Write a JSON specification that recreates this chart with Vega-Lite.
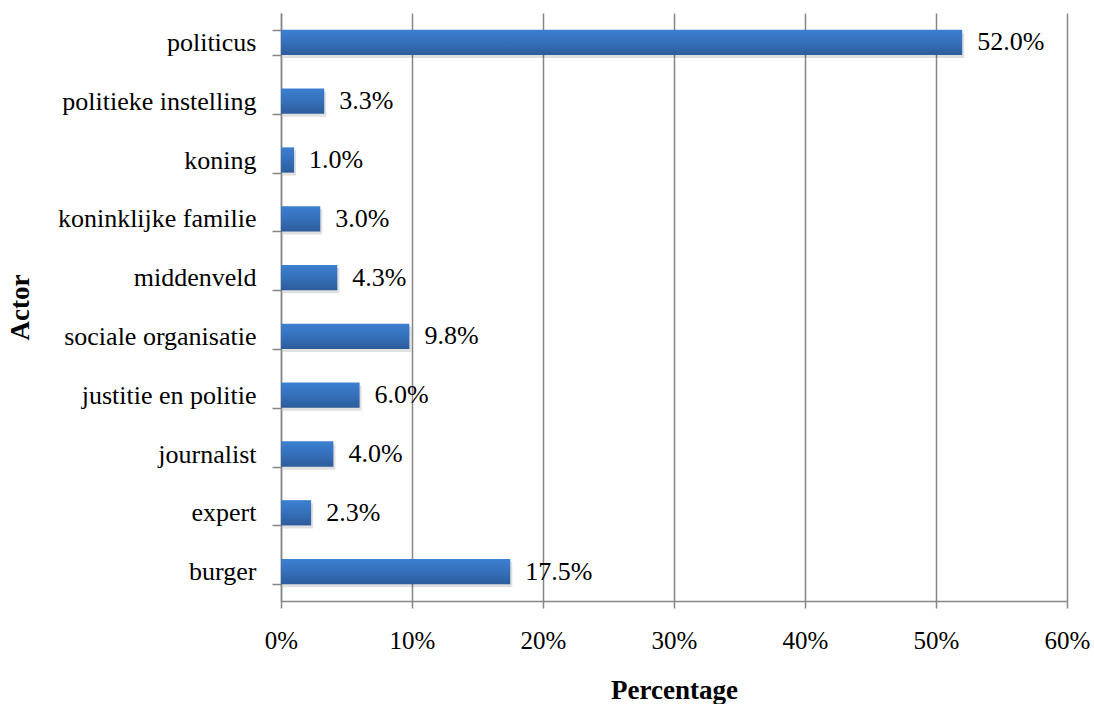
{
  "$schema": "https://vega.github.io/schema/vega-lite/v6.json",
  "width": 786,
  "height": 588,
  "autosize": {"type": "none"},
  "padding": {"left": 281, "top": 13, "right": 27, "bottom": 103},
  "background": "white",
  "config": {
    "view": {"stroke": null},
    "font": "Liberation Serif",
    "axis": {
      "labelFont": "Liberation Serif",
      "titleFont": "Liberation Serif",
      "labelColor": "black",
      "titleColor": "black",
      "domainColor": "#868686",
      "domainWidth": 1.5,
      "tickColor": "#868686",
      "tickWidth": 1.5,
      "gridColor": "#868686",
      "gridWidth": 1.5,
      "titleFontSize": 27,
      "titleFontWeight": "bold"
    }
  },
  "data": {
    "values": [
      {"actor": "politicus", "pct": 0.520},
      {"actor": "politieke instelling", "pct": 0.033},
      {"actor": "koning", "pct": 0.010},
      {"actor": "koninklijke familie", "pct": 0.030},
      {"actor": "middenveld", "pct": 0.043},
      {"actor": "sociale organisatie", "pct": 0.098},
      {"actor": "justitie en politie", "pct": 0.060},
      {"actor": "journalist", "pct": 0.040},
      {"actor": "expert", "pct": 0.023},
      {"actor": "burger", "pct": 0.175}
    ]
  },
  "encoding": {
    "y": {
      "field": "actor",
      "type": "nominal",
      "sort": null,
      "scale": {"paddingInner": 0.57, "paddingOuter": 0.285},
      "axis": {
        "title": "Actor",
        "labelFontSize": 26,
        "labelLimit": 400,
        "tickBand": "extent",
        "tickSize": 9,
        "labelPadding": 16,
        "grid": false,
        "titleAngle": 270,
        "titleX": -261,
        "titleY": 294,
        "titleAlign": "center",
        "titleBaseline": "middle"
      }
    },
    "x": {
      "field": "pct",
      "type": "quantitative",
      "scale": {"domain": [0, 0.6], "nice": false},
      "axis": {
        "title": "Percentage",
        "labelFontSize": 25,
        "labelFlush": false,
        "labelOverlap": false,
        "values": [0, 0.1, 0.2, 0.3, 0.4, 0.5, 0.6],
        "format": ".0%",
        "tickSize": 7,
        "labelPadding": 20,
        "grid": true,
        "titleX": 393,
        "titleY": 89,
        "titleAlign": "center",
        "titleBaseline": "middle"
      }
    }
  },
  "layer": [
    {
      "mark": {"type": "bar", "color": "black", "opacity": 0.12, "xOffset": 2, "yOffset": 3}
    },
    {
      "mark": {
        "type": "bar",
        "color": {
          "gradient": "linear",
          "x1": 0, "y1": 0, "x2": 0, "y2": 1,
          "stops": [
            {"offset": 0, "color": "#3d7fd0"},
            {"offset": 0.5, "color": "#3670bb"},
            {"offset": 1, "color": "#2c5c9b"}
          ]
        }
      }
    },
    {
      "mark": {"type": "text", "align": "left", "baseline": "middle", "dx": 15, "fontSize": 26, "font": "Liberation Serif", "color": "black"},
      "encoding": {
        "text": {"field": "pct", "type": "quantitative", "format": ".1%"}
      }
    }
  ]
}
